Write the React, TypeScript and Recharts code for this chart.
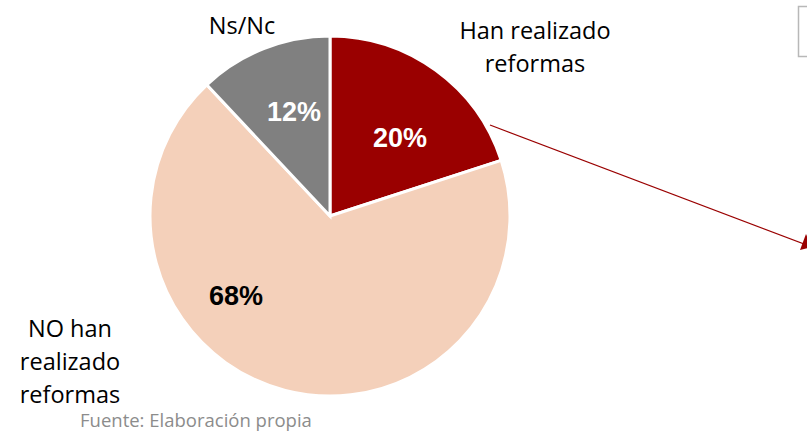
import React from 'react';
import { PieChart, Pie, Cell } from 'recharts';

const categories = ['Han realizado reformas', 'NO han realizado reformas', 'Ns/Nc'];
const shares = [20, 68, 12];
const sliceColors = ['#9A0000', '#F4D0BA', '#808080'];
const valueColors = ['#FFFFFF', '#000000', '#FFFFFF'];
const nameLabels = [['Han realizado', 'reformas'], ['NO han', 'realizado', 'reformas'], ['Ns/Nc']];

const data = categories.map((name, i) => ({ name, value: shares[i] }));

const W = 807;
const H = 431;
const CX = 330;
const CY = 216;
const R = 180;

// label placement relative to the pie centre (moved by hand in the original)
const valueOffset = [
  { dx: 70, dy: -78 },
  { dx: -94, dy: 80 },
  { dx: -36, dy: -104 },
];
const nameOffset = [
  { dx: 205, dy: -186 },
  { dx: -260, dy: 112 },
  { dx: -88, dy: -191 },
];

function renderLabel(props: any) {
  const { cx, cy, index, percent } = props;
  const v = valueOffset[index];
  const n = nameOffset[index];
  const lines = nameLabels[index];
  return (
    <g>
      <text
        x={cx + v.dx}
        y={cy + v.dy}
        textAnchor="middle"
        dominantBaseline="central"
        fill={valueColors[index]}
        fontFamily="'Liberation Sans', Arial, sans-serif"
        fontWeight="bold"
        fontSize={27}
      >
        {`${Math.round(percent * 100)}%`}
      </text>
      {lines.map((line, j) => (
        <text
          key={j}
          x={cx + n.dx}
          y={cy + n.dy + j * 33}
          textAnchor="middle"
          dominantBaseline="central"
          fill="#000"
          fontFamily="'Open Sans', sans-serif"
          fontSize={23.5}
        >
          {line}
        </text>
      ))}
    </g>
  );
}

export default function App() {
  return (
    <div style={{ position: 'fixed', left: 0, top: 0, width: W, height: H, background: '#fff', overflow: 'hidden' }}>
      <PieChart width={W} height={H} margin={{ top: 0, right: 0, bottom: 0, left: 0 }}>
        <Pie
          data={data}
          dataKey="value"
          nameKey="name"
          cx={CX}
          cy={CY}
          outerRadius={R}
          startAngle={90}
          endAngle={-270}
          stroke="#fff"
          strokeWidth={3}
          label={renderLabel}
          labelLine={false}
          isAnimationActive={false}
        >
          {data.map((d, i) => (
            <Cell key={d.name} fill={sliceColors[i]} />
          ))}
        </Pie>
      </PieChart>
      <svg width={W} height={H} style={{ position: 'absolute', left: 0, top: 0, pointerEvents: 'none' }}>
        <line x1={490} y1={125} x2={812} y2={247} stroke="#9A0000" strokeWidth={1.2} />
        <path d="M800,250 L812,247 L806,234 z" fill="#9A0000" />
        <rect x={798.5} y={6.5} width={20} height={50} fill="#fff" stroke="#b8b8b8" strokeWidth={1.5} />
      </svg>
      <div
        style={{
          position: 'absolute',
          left: 80,
          top: 407,
          fontFamily: "'Open Sans', sans-serif",
          fontSize: 18.5,
          color: '#8C8C8C',
          whiteSpace: 'nowrap',
          lineHeight: '26px',
        }}
      >
        Fuente: Elaboración propia
      </div>
    </div>
  );
}
